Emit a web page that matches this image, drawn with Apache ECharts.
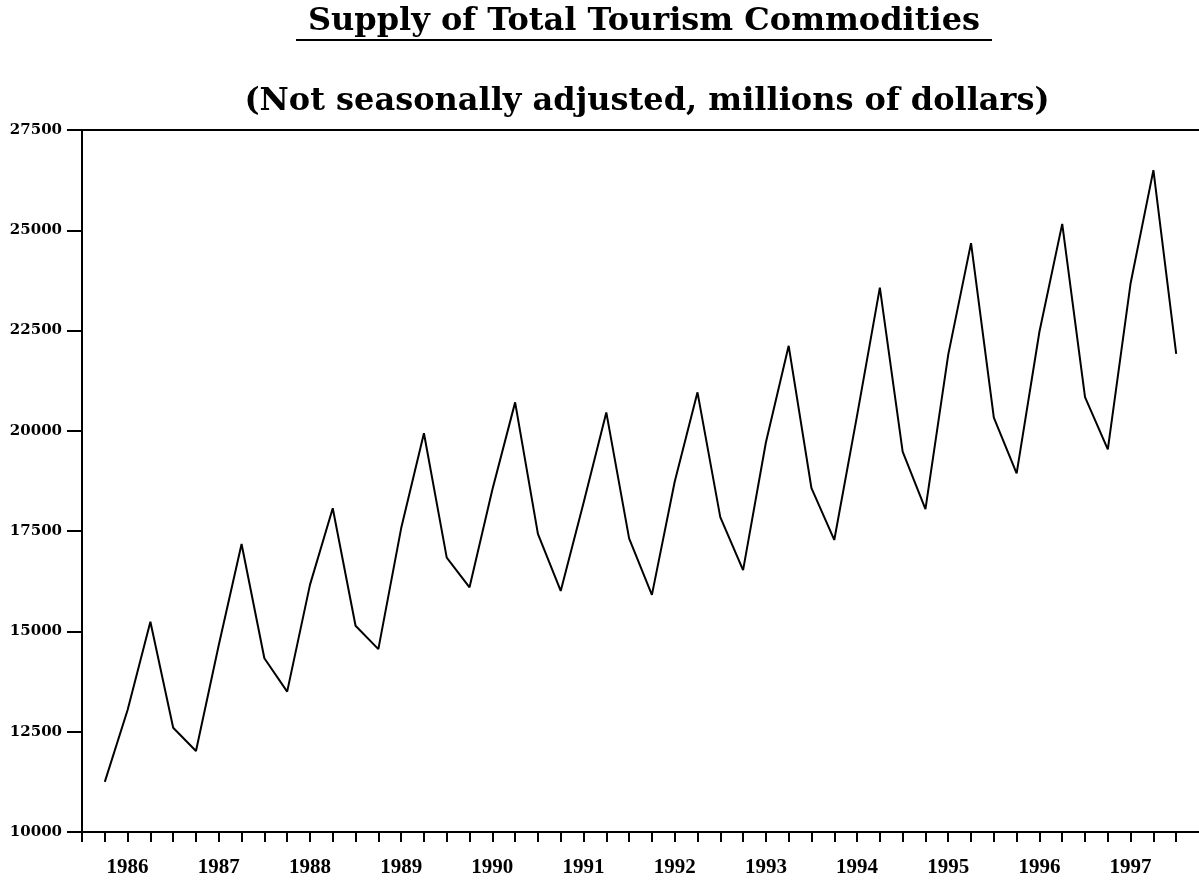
<!DOCTYPE html>
<html>
<head>
<meta charset="utf-8">
<script src="https://cdn.jsdelivr.net/npm/echarts@6/dist/echarts.min.js"></script>
<style>
  html, body { margin: 0; padding: 0; background: #fff; }
  #main { width: 1199px; height: 882px; }
</style>
</head>
<body>
<div id="main"></div>
<script>
// quarterly supply, 1986 Q1 .. 1997 Q4 (millions of dollars)
var quarterNo = [];
for (var q = 1; q <= 48; q++) quarterNo.push(q);

var supplyValues = [
    11250, 13040, 15240, 12600, 12020, 14660, 17180, 14330,
    13500, 16160, 18070, 15140, 14560, 17570, 19940, 16840,
    16100, 18530, 20710, 17430, 16010, 18200, 20460, 17320,
    15910, 18730, 20960, 17850, 16530, 19710, 22120, 18570,
    17280, 20380, 23570, 19480, 18050, 21900, 24680, 20330,
    18940, 22470, 25160, 20840, 19540, 23680, 26500, 21920
];

var yearLabels = ['1986', '1987', '1988', '1989', '1990', '1991',
                  '1992', '1993', '1994', '1995', '1996', '1997'];
var yearLabelPos = [2, 6, 10, 14, 18, 22, 26, 30, 34, 38, 42, 46];

var tickPos = [];
for (var t = 0; t <= 48; t++) tickPos.push(t);

var yTicks = [10000, 12500, 15000, 17500, 20000, 22500, 25000, 27500];

var titleText = 'Supply of Total Tourism Commodities';
var subtitleText = '(Not seasonally adjusted, millions of dollars)';

var seriesData = quarterNo.map(function (x, i) {
    return [x, supplyValues[i]];
});

var labelFont = 'DejaVu Serif';
var chart = echarts.init(document.getElementById('main'));

var option = {
    backgroundColor: '#fff',
    animation: false,
    graphic: [{
        type: 'text',
        x: 644,
        y: 22,
        style: {
            text: titleText,
            textAlign: 'center',
            textVerticalAlign: 'middle',
            fontFamily: labelFont,
            fontWeight: 'bold',
            fontSize: 32,
            fill: '#000'
        }
    }, {
        type: 'line',
        shape: { x1: 296, y1: 40, x2: 992, y2: 40 },
        style: { stroke: '#000', lineWidth: 2 }
    }, {
        type: 'text',
        x: 647,
        y: 102,
        style: {
            text: subtitleText,
            textAlign: 'center',
            textVerticalAlign: 'middle',
            fontFamily: labelFont,
            fontWeight: 'bold',
            fontSize: 32,
            fill: '#000'
        }
    }],
    grid: { left: 82, right: 0, top: 130, bottom: 50 },
    xAxis: [{
        type: 'value',
        min: 0,
        max: 49,
        interval: 1,
        splitLine: { show: false },
        axisLine: { lineStyle: { color: '#000', width: 2 } },
        axisTick: { customValues: tickPos, length: 10, lineStyle: { color: '#000', width: 2 } },
        axisLabel: {
            customValues: yearLabelPos,
            margin: 25,
            color: '#000',
            fontFamily: 'Liberation Serif',
            fontWeight: 'bold',
            fontSize: 21,
            formatter: function (v) {
                var idx = yearLabelPos.indexOf(v);
                return idx >= 0 ? yearLabels[idx] : '';
            }
        }
    }, {
        type: 'value',
        position: 'top',
        min: 0,
        max: 49,
        splitLine: { show: false },
        axisLine: { lineStyle: { color: '#000', width: 2 } },
        axisTick: { show: false },
        axisLabel: { show: false }
    }],
    yAxis: {
        type: 'value',
        min: 10000,
        max: 27500,
        interval: 2500,
        splitLine: { show: false },
        axisLine: { show: true, lineStyle: { color: '#000', width: 2 } },
        axisTick: { show: true, length: 15, lineStyle: { color: '#000', width: 2 } },
        axisLabel: {
            margin: 20,
            color: '#000',
            fontFamily: labelFont,
            fontWeight: 'bold',
            fontSize: 15,
            customValues: yTicks,
            formatter: function (v) { return String(v); }
        }
    },
    series: [{
        name: 'Supply',
        type: 'line',
        data: seriesData,
        symbol: 'none',
        lineStyle: { color: '#000', width: 2 }
    }]
};

chart.setOption(option);
</script>
</body>
</html>
